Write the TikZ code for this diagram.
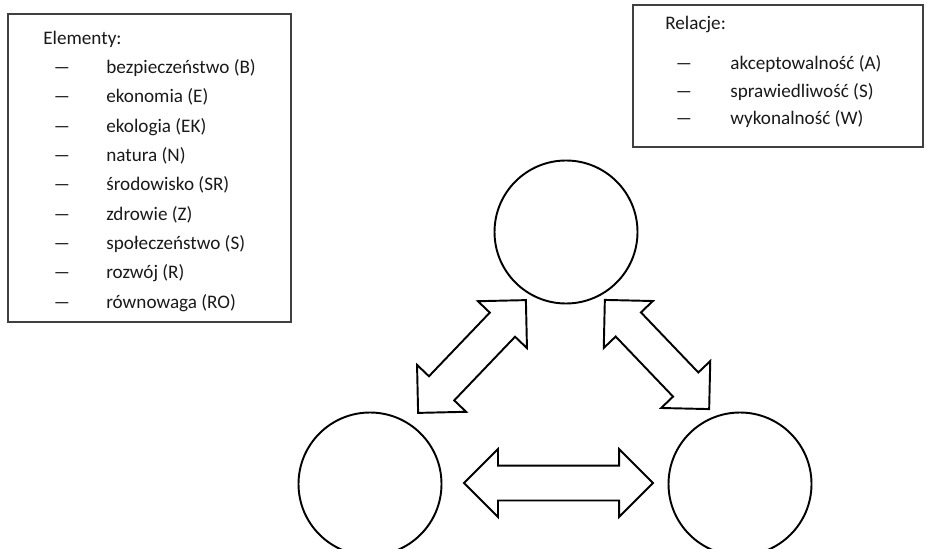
\documentclass[tikz,border=0pt]{standalone}
\usepackage{fontspec}
\setmainfont{Carlito}
\usetikzlibrary{shapes.arrows}

\tikzset{
  ramka/.style={draw=black!75, line width=1pt},
  kolo/.style={circle, draw, line width=1.1pt, minimum size=2.86cm, inner sep=0pt},
  strzalka/.style={double arrow, draw, line width=1.1pt, double arrow tip angle=90,
    double arrow head extend=0.33cm, inner sep=0.33cm, minimum height=#1},
  wpis/.style={anchor=west, text height=1.5ex, text depth=.4ex, inner sep=0pt,
    font=\fontsize{10.9}{13}\selectfont, text=black!90}
}
\newcommand{\kreska}{\scalebox{1.9}[1]{--}}

\begin{document}
\begin{tikzpicture}
\useasboundingbox (0,0) rectangle (18.54,10.96);
\clip (0,0) rectangle (18.54,10.96);
% elementy
\draw[ramka] (0.16,4.52) rectangle (5.82,10.68);
\node[wpis] (elem) at (0.86,10.16) {Elementy:};
\foreach \t [count=\i from 0] in {bezpieczeństwo (B), ekonomia (E), ekologia (EK),
  natura (N), środowisko (SR), zdrowie (Z), społeczeństwo (S), rozwój (R), równowaga (RO)}
{
  \node[wpis, anchor=center] (kE\i) at (1.24,9.58-0.586*\i) {\kreska};
  \node[wpis] (e\i) at (2.12,9.58-0.586*\i) {\t};
}
% relacje
\draw[ramka] (12.66,8.02) rectangle (18.46,10.86);
\node[wpis] (rel) at (13.30,10.46) {Relacje:};
\foreach \t [count=\i from 0] in {akceptowalność (A), sprawiedliwość (S), wykonalność (W)}
{
  \node[wpis, anchor=center] (kR\i) at (13.68,9.66-0.55*\i) {\kreska};
  \node[wpis] (r\i) at (14.60,9.66-0.55*\i) {\t};
}
% kola
\node[kolo] (gora) at (11.32,6.32) {};
\node[kolo] (lewe) at (7.40,1.28) {};
\node[kolo] (prawe) at (14.80,1.28) {};
% strzalki
\node[strzalka=3.12cm, rotate=46.3] (sGL) at (9.44,3.83) {};
\node[strzalka=3.02cm, rotate=-46.3] (sGP) at (13.14,3.87) {};
\node[strzalka=3.78cm] (sLP) at (11.17,1.30) {};
\end{tikzpicture}
\end{document}
